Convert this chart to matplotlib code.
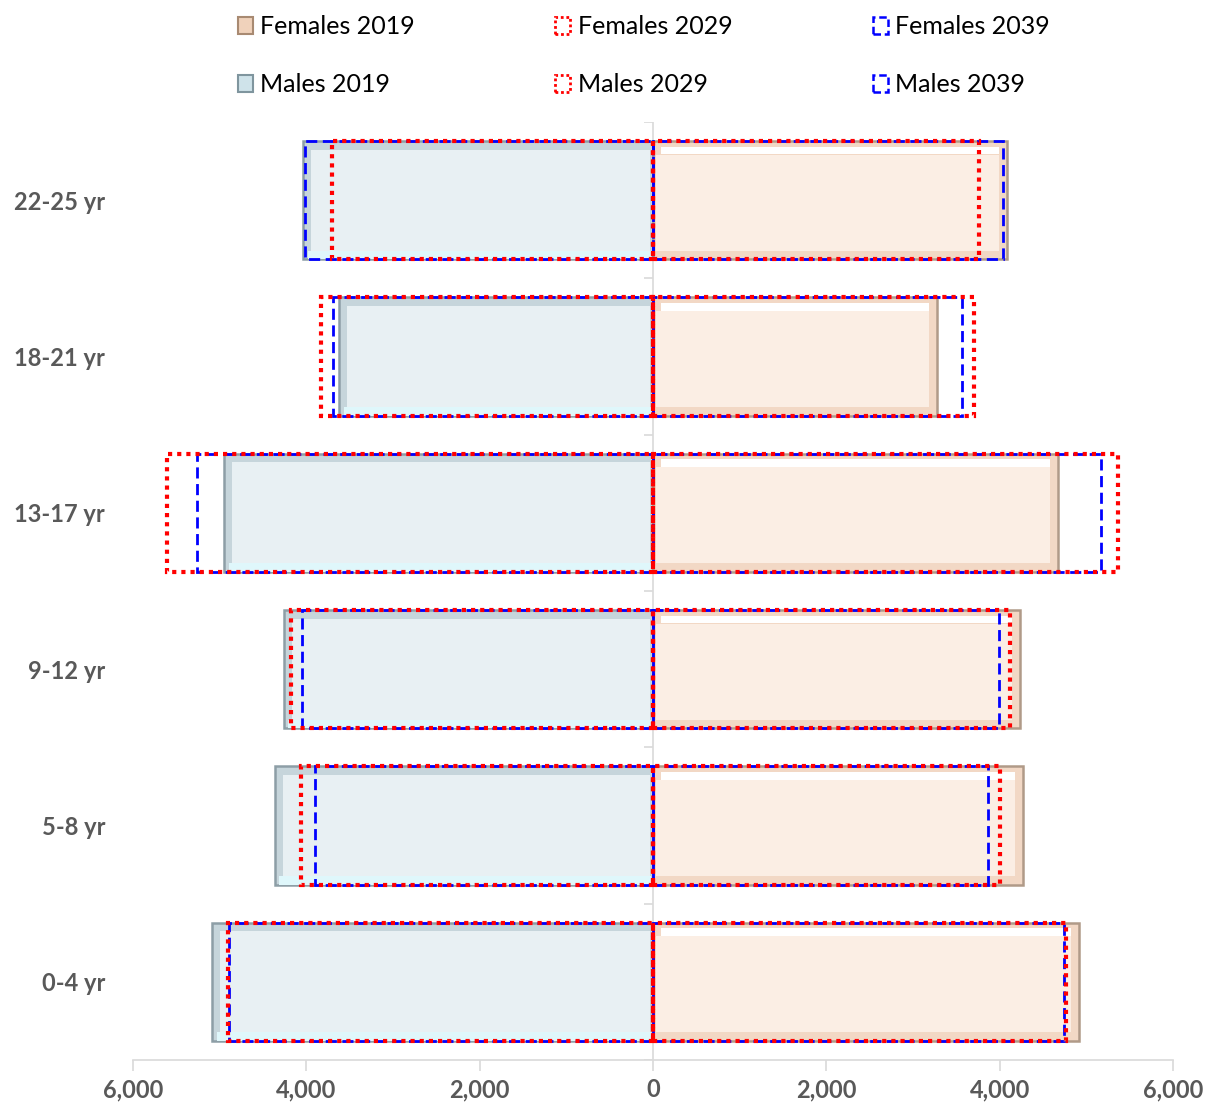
import matplotlib
matplotlib.use("Agg")
import matplotlib.pyplot as plt
from matplotlib.patches import Patch
from matplotlib.ticker import FuncFormatter
import numpy as np

# age groups, bottom to top
groups = ["0-4 yr", "5-8 yr", "9-12 yr", "13-17 yr", "18-21 yr", "22-25 yr"]

males_2019 = [5090, 4365, 4260, 4950, 3620, 4040]
males_2029 = [4900, 4060, 4180, 5610, 3830, 3700]
males_2039 = [4890, 3905, 4050, 5260, 3690, 4010]

females_2019 = [4910, 4270, 4230, 4670, 3280, 4085]
females_2029 = [4760, 4000, 4120, 5370, 3700, 3760]
females_2039 = [4745, 3870, 3990, 5170, 3570, 4040]

xticks = [-6000, -4000, -2000, 0, 2000, 4000, 6000]

plt.rcParams['font.family'] = ['Lato', 'DejaVu Sans']

fig = plt.figure(figsize=(12.14, 11.05), dpi=100)
ax = fig.add_axes([133/1214, 1 - 1060/1105, 1040/1214, 938/1105])

y = np.arange(len(groups))
h = 0.757

m19 = -np.array(males_2019, dtype=float)
f19 = np.array(females_2019, dtype=float)
m29 = -np.array(males_2029)
m39 = -np.array(males_2039)

# 2019 bars: darker frame + light inner face (bevel look)
ins_x = 90
ins_y = 0.055
ax.barh(y, m19, height=h, color="#c6d5db", edgecolor="#8d9ea6", linewidth=1.8, zorder=2)
ax.barh(y, f19, height=h, color="#f2d8c5", edgecolor="#b09a88", linewidth=1.8, zorder=2)
# light strip along bottom of males, white strip along top of females
ax.barh(y - h/2 + ins_y/2, m19 + ins_x*0.9, left=-ins_x*0.3, height=ins_y, color="#dff7fb", linewidth=0, zorder=2)
ax.barh(y + h/2 - ins_y*1.1, f19 - 2*ins_x, left=ins_x, height=ins_y*0.9, color="#ffffff", linewidth=0, zorder=2)
# inner faces
ax.barh(y, m19 + ins_x*1.4, left=-ins_x*0.4, height=h - 2*ins_y, color="#e8f0f3", linewidth=0, zorder=2)
ax.barh(y - ins_y*0.3, f19 - ins_x*1.4, left=ins_x*0.4, height=h - 2.6*ins_y, color="#fbeee4", linewidth=0, zorder=2)

# projections as outlines
ax.barh(y, m39, height=h, fill=False, edgecolor="#0000ff", linestyle=(0, (4, 2)), linewidth=2, zorder=3)
ax.barh(y, females_2039, height=h, fill=False, edgecolor="#0000ff", linestyle=(0, (4, 2)), linewidth=2, zorder=3)
ax.barh(y, m29, height=h, fill=False, edgecolor="#ff0000", linestyle=(0, (1, 1.2)), linewidth=3, zorder=4)
ax.barh(y, females_2029, height=h, fill=False, edgecolor="#ff0000", linestyle=(0, (1, 1.2)), linewidth=3, zorder=4)

ax.set_xlim(-6000, 6000)
ax.set_ylim(-0.5, len(groups) - 0.5)

# vertical axis line at zero and category tick marks
ax.axvline(0, color="#d9d9d9", linewidth=1.2, zorder=1)
bounds = np.arange(-0.5, len(groups), 1.0)
ax.hlines(bounds, -100, 0, color="#d9d9d9", linewidth=1.2, zorder=1)

for s in ["top", "right", "left"]:
    ax.spines[s].set_visible(False)
ax.spines["bottom"].set_color("#d9d9d9")
ax.spines["bottom"].set_linewidth(1.2)

ax.set_xticks(xticks)
ax.xaxis.set_major_formatter(FuncFormatter(lambda v, p: f"{abs(int(v)):,}"))
ax.tick_params(axis="x", colors="#d9d9d9", length=8, width=1.2, labelcolor="#595959",
               labelsize=17, pad=5)
for lbl in ax.get_xticklabels():
    lbl.set_fontweight("bold")

ax.set_yticks(y)
ax.set_yticklabels(groups)
ax.tick_params(axis="y", length=0, labelcolor="#595959", labelsize=17, pad=20)
for lbl in ax.get_yticklabels():
    lbl.set_fontweight("bold")

handles = [
    Patch(facecolor="#f0d2bb", edgecolor="#a88a72", linewidth=1.5),
    Patch(facecolor="#cfe3ea", edgecolor="#7f959e", linewidth=1.5),
    Patch(fill=False, edgecolor="#ff0000", linestyle=(0, (1, 1)), linewidth=2),
    Patch(fill=False, edgecolor="#ff0000", linestyle=(0, (1, 1)), linewidth=2),
    Patch(fill=False, edgecolor="#0000ff", linestyle=(0, (3, 1.5)), linewidth=1.8),
    Patch(fill=False, edgecolor="#0000ff", linestyle=(0, (3, 1.5)), linewidth=1.8),
]
labels = ["Females 2019", "Males 2019", "Females 2029", "Males 2029", "Females 2039", "Males 2039"]
fig.legend(handles, labels, ncol=3, loc="upper left", bbox_to_anchor=(228/1214, 1 - 5/1105),
           frameon=False, fontsize=18, handlelength=0.6, handleheight=0.7, handletextpad=0.3,
           columnspacing=5.6, labelspacing=1.4, borderaxespad=0)

fig.savefig("out.png", dpi=100)
